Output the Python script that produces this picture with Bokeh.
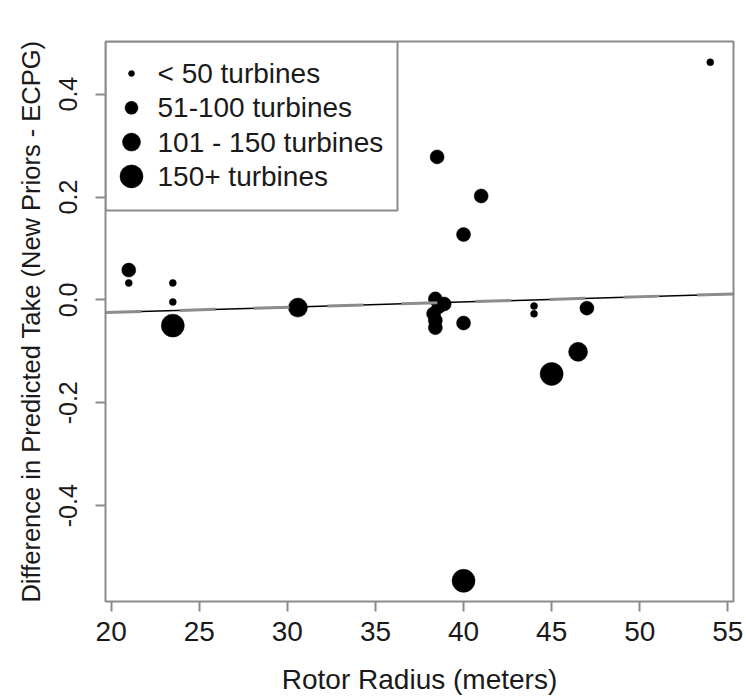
from bokeh.plotting import figure
from bokeh.models import Range1d, FixedTicker, NumeralTickFormatter, ColumnDataSource
from bokeh.embed import file_html
from bokeh.resources import INLINE
from bokeh.core.properties import value

# ---- data ----
rotor_radius = [21.0, 21.0, 23.5, 23.5, 23.5, 30.6, 38.5, 41.0, 40.0, 40.0,
                38.4, 38.9, 38.6, 38.3, 38.4, 38.4, 44.0, 44.0, 47.0, 46.5,
                45.0, 54.0, 40.0]
diff_take = [0.058, 0.033, 0.033, -0.004, -0.050, -0.015, 0.278, 0.202, 0.127, -0.045,
             0.002, -0.008, -0.013, -0.027, -0.040, -0.054, -0.012, -0.027, -0.016, -0.101,
             -0.144, 0.462, -0.546]
turbine_class = [1, 0, 0, 0, 3, 2, 1, 1, 1, 1,
                 1, 1, 1, 1, 1, 1, 0, 0, 1, 2,
                 3, 0, 3]
class_labels = ["< 50 turbines", "51-100 turbines", "101 - 150 turbines", "150+ turbines"]
x_ticks = [20, 25, 30, 35, 40, 45, 50, 55]
y_ticks = [-0.4, -0.2, 0.0, 0.2, 0.4]
x_title = "Rotor Radius (meters)"
y_title = "Difference in Predicted Take (New Priors - ECPG)"
fit_intercept = -0.0448
fit_slope = 0.00102

# ---- styles ----
CLASS_SIZE = [7, 14, 19, 23]
LEGEND_SIZE = [6, 13, 18, 23]
GREY = "#8c8c8c"
TXT = "#1a1a1a"
FONT = "Liberation Sans"
FRAME_W, FRAME_H = 628, 560


def padded(vals, frac=0.04):
    lo, hi = min(vals), max(vals)
    pad = (hi - lo) * frac
    return lo - pad, hi + pad


x0, x1 = padded(rotor_radius)
y0, y1 = padded(diff_take)

p = figure(frame_width=FRAME_W, frame_height=FRAME_H,
           min_border_left=105, min_border_right=13, min_border_top=41, min_border_bottom=95,
           x_range=Range1d(x0, x1), y_range=Range1d(y0, y1),
           output_backend="svg", toolbar_location=None,
           background_fill_color="white", border_fill_color="white")
p.extra_x_ranges = {"px": Range1d(0, FRAME_W)}
p.extra_y_ranges = {"px": Range1d(FRAME_H, 0)}

p.grid.visible = False
p.outline_line_color = GREY
p.outline_line_width = 2
p.outline_line_alpha = 1.0

for ax in (p.xaxis, p.yaxis):
    ax.axis_line_color = None
    ax.major_tick_line_color = GREY
    ax.major_tick_line_width = 2
    ax.major_tick_out = 10
    ax.major_tick_in = 0
    ax.minor_tick_line_color = None
    ax.major_label_text_font = FONT
    ax.major_label_text_color = TXT
    ax.axis_label_text_font = FONT
    ax.axis_label_text_color = TXT
    ax.axis_label_text_font_style = "normal"

p.xaxis.ticker = FixedTicker(ticks=x_ticks)
p.xaxis.major_label_text_font_size = "28px"
p.xaxis.major_label_standoff = 10
p.xaxis.axis_label = x_title
p.xaxis.axis_label_text_font_size = "28px"
p.xaxis.axis_label_standoff = 20

p.yaxis.ticker = FixedTicker(ticks=y_ticks)
p.yaxis.formatter = NumeralTickFormatter(format="0.0")
p.yaxis.major_label_orientation = "vertical"
p.yaxis.major_label_text_font_size = "25px"
p.yaxis.major_label_standoff = 18
p.yaxis.axis_label = y_title
p.yaxis.axis_label_text_font_size = "25.5px"
p.yaxis.axis_label_standoff = 12

# ---- points ----
src = ColumnDataSource(dict(x=rotor_radius, y=diff_take,
                            s=[CLASS_SIZE[c] for c in turbine_class]))
p.scatter("x", "y", size="s", source=src, marker="circle",
          fill_color="black", line_color="black", line_width=0.5)

# ---- fitted line ----
lx = [x0, x1]
ly = [fit_intercept + fit_slope * v for v in lx]
p.line(lx, ly, line_color="black", line_width=1.5)
p.line(lx, ly, line_color=GREY, line_width=3, line_dash="36 38")

# ---- legend (top-left, in frame pixels) ----
n = len(class_labels)
row_y = [32 + i * 34.3 for i in range(n)]
p.quad(left=[0], right=[292], top=[0], bottom=[169], x_range_name="px", y_range_name="px",
       fill_color=None, line_color=GREY, line_width=2)
p.scatter(x=[26] * n, y=row_y, size=LEGEND_SIZE, marker="circle",
          fill_color="black", line_color="black", line_width=0.5,
          x_range_name="px", y_range_name="px")
p.text(x=[52] * n, y=row_y, text=class_labels, x_range_name="px", y_range_name="px",
       text_font=value(FONT), text_font_size="28px", text_color=TXT,
       text_baseline="middle", text_align="left")

open("out.html", "w").write(file_html(p, INLINE))
